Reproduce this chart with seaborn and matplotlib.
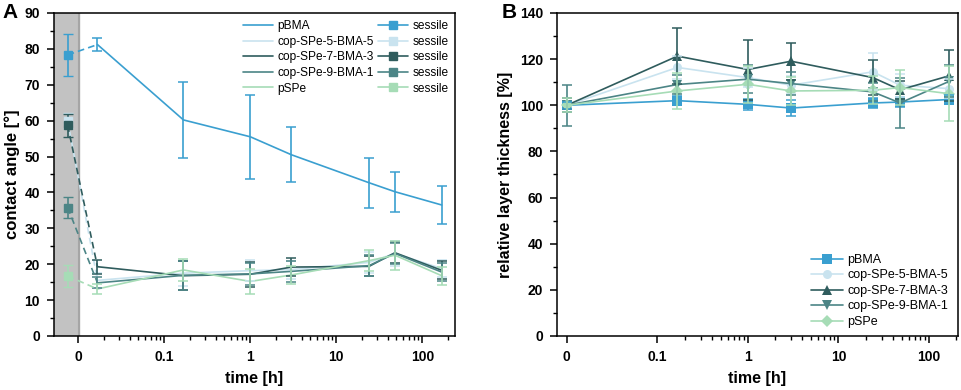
import numpy as np
import pandas as pd
import matplotlib
matplotlib.use('Agg')
import matplotlib.pyplot as plt
from matplotlib.lines import Line2D
from matplotlib.ticker import FixedLocator, NullFormatter, FixedFormatter
import seaborn as sns

# ---- data ----
samples = ['pBMA', 'cop-SPe-5-BMA-5', 'cop-SPe-7-BMA-3', 'cop-SPe-9-BMA-1', 'pSPe']
colors = ['#3a9fd0', '#c9e3ef', '#2f5c5d', '#4c8586', '#a6dcb6']

# panel A: contact angle
times_a = [1/60, 1/6, 1, 3, 24, 48, 168]
sessile_a = [78.3, 60.0, 58.7, 35.8, 16.7]
sessile_err_a = [5.8, 2.0, 3.2, 3.0, 3.0]
angle_pbma = [81.2, 60.2, 55.5, 50.5, 42.7, 40.2, 36.5]
angle_cop5 = [15.5, 17.5, 18.2, 18.5, 20.5, 23.0, 18.8]
angle_cop7 = [19.3, 16.8, 17.2, 19.2, 19.4, 23.2, 18.3]
angle_cop9 = [14.8, 16.9, 17.3, 18.0, 19.6, 23.0, 17.8]
angle_pspe = [13.1, 18.4, 15.2, 17.0, 21.0, 22.5, 16.8]
err_pbma = [1.8, 10.6, 11.7, 7.6, 7.0, 5.6, 5.3]
err_cop5 = [2.0, 3.5, 3.0, 2.5, 3.0, 3.5, 2.5]
err_cop7 = [2.0, 4.0, 3.5, 2.5, 2.8, 3.0, 2.5]
err_cop9 = [1.5, 4.0, 3.0, 3.0, 3.0, 3.0, 2.5]
err_pspe = [1.5, 3.0, 3.5, 2.5, 3.0, 4.0, 2.5]

# panel B: relative layer thickness
times_b = [0, 1/6, 1, 3, 24, 48, 168]
thick_pbma = [100, 102.0, 100.4, 98.8, 101.0, 101.4, 102.5]
thick_cop5 = [100, 116.4, 112.0, 108.7, 114.5, 108.7, 107.2]
thick_cop7 = [100, 121.3, 115.5, 119.1, 112.0, 106.7, 112.8]
thick_cop9 = [100, 109.0, 111.3, 109.4, 105.8, 101.0, 110.4]
thick_pspe = [100, 106.2, 109.1, 106.2, 106.5, 107.7, 105.0]
terr_pbma = [1.5, 2.0, 2.5, 3.5, 2.0, 2.0, 2.0]
terr_cop5 = [3.0, 5.0, 4.0, 4.0, 8.0, 5.0, 4.0]
terr_cop7 = [3.0, 12.0, 13.0, 8.0, 7.5, 4.0, 11.0]
terr_cop9 = [8.8, 4.0, 6.0, 5.0, 4.0, 11.0, 7.0]
terr_pspe = [3.0, 8.0, 8.0, 6.0, 6.0, 7.5, 12.0]

angles = [angle_pbma, angle_cop5, angle_cop7, angle_cop9, angle_pspe]
angle_errs = [err_pbma, err_cop5, err_cop7, err_cop9, err_pspe]
thicks = [thick_pbma, thick_cop5, thick_cop7, thick_cop9, thick_pspe]
thick_errs = [terr_pbma, terr_cop5, terr_cop7, terr_cop9, terr_pspe]
markers_b = ['s', 'o', '^', 'v', 'D']

ZERO_POS = 0.01      # where "0" sits on the log axis
SESSILE_POS = 0.0075  # sessile drop column inside the grey band

def xpos(t):
    return ZERO_POS if t == 0 else t

rows_a = []
rows_b = []
for s, va, vb in zip(samples, angles, thicks):
    for t, v in zip(times_a, va):
        rows_a.append({'sample': s, 'time': xpos(t), 'value': v})
    for t, v in zip(times_b, vb):
        rows_b.append({'sample': s, 'time': xpos(t), 'value': v})
df_a = pd.DataFrame(rows_a)
df_b = pd.DataFrame(rows_b)
palette = dict(zip(samples, colors))

sns.set_style('ticks')
plt.rcParams['font.family'] = ['Liberation Sans', 'DejaVu Sans']
plt.rcParams['axes.linewidth'] = 1.1
for k in ('text.color', 'axes.labelcolor', 'xtick.color', 'ytick.color', 'axes.edgecolor'):
    plt.rcParams[k] = 'black'

fig = plt.figure(figsize=(9.62, 3.9), dpi=100)
axA = fig.add_axes([0.0561, 0.1385, 0.4169, 0.8282])
axB = fig.add_axes([0.579, 0.1385, 0.4168, 0.8282])

# ---------------- panel A ----------------
axA.set_xscale('log')
axA.axvspan(0.004, 0.0103, color='#c2c2c2', zorder=0)
axA.axvline(0.0103, color='#a5a5a5', lw=1.5, zorder=0)
sns.lineplot(data=df_a, x='time', y='value', hue='sample', palette=palette,
             hue_order=samples, ax=axA, legend=False, linewidth=1.2, zorder=3)
for i, s in enumerate(samples):
    axA.errorbar([xpos(t) for t in times_a], angles[i], yerr=angle_errs[i], fmt='none',
                 ecolor=colors[i], elinewidth=1.2, capsize=3.5, capthick=1.1, zorder=3)
    axA.plot([SESSILE_POS, times_a[0]], [sessile_a[i], angles[i][0]], ls=(0, (4, 2.5)),
             color=colors[i], lw=1.2, zorder=3)
    axA.errorbar([SESSILE_POS], [sessile_a[i]], yerr=[sessile_err_a[i]], fmt='s', ms=5.5,
                 color=colors[i], ecolor=colors[i], elinewidth=1.2, capsize=3.5, zorder=4)

axA.set_xlim(0.0052, 240)
axA.set_ylim(0, 90)
axA.set_yticks(np.arange(0, 91, 10))
axA.set_yticks(np.arange(0, 91, 5), minor=True)
axA.xaxis.set_major_locator(FixedLocator([0.01, 0.1, 1, 10, 100]))
axA.xaxis.set_major_formatter(FixedFormatter(['0', '0.1', '1', '10', '100']))
minA = [m * 10.0 ** d for d in range(-2, 3) for m in range(2, 10)]
axA.xaxis.set_minor_locator(FixedLocator(minA))
axA.xaxis.set_minor_formatter(NullFormatter())
axA.set_xlabel('time [h]', fontsize=11.5, fontweight='bold', labelpad=5)
axA.set_ylabel('contact angle [°]', fontsize=12, fontweight='bold', labelpad=3)

h_lines = [Line2D([], [], color=c, lw=1.2) for c in colors]
h_sess = [Line2D([], [], color=c, lw=1.2, marker='s', ms=5.5) for c in colors]
axA.legend(h_lines + h_sess, samples + ['sessile'] * 5, ncol=2, loc='upper right',
           bbox_to_anchor=(0.99, 0.985), fontsize=8.6, frameon=False,
           handlelength=2.5, handletextpad=0.35, columnspacing=0.4,
           labelspacing=0.3, borderpad=0.2, borderaxespad=0.0)

# ---------------- panel B ----------------
axB.set_xscale('log')
sns.lineplot(data=df_b, x='time', y='value', hue='sample', style='sample', palette=palette,
             hue_order=samples, style_order=samples, markers=dict(zip(samples, markers_b)),
             dashes=False, markersize=6.5, markeredgewidth=0, ax=axB, legend=False,
             linewidth=1.2, zorder=3)
for i, s in enumerate(samples):
    axB.errorbar([xpos(t) for t in times_b], thicks[i], yerr=thick_errs[i], fmt='none',
                 ecolor=colors[i], elinewidth=1.2, capsize=3.5, capthick=1.1, zorder=3)

axB.set_xlim(0.0078, 209)
axB.set_ylim(0, 140)
axB.set_yticks(np.arange(0, 141, 20))
axB.set_yticks(np.arange(0, 141, 10), minor=True)
axB.xaxis.set_major_locator(FixedLocator([0.01, 0.1, 1, 10, 100]))
axB.xaxis.set_major_formatter(FixedFormatter(['0', '0.1', '1', '10', '100']))
minB = [m * 10.0 ** d for d in range(-1, 3) for m in range(2, 10)]
axB.xaxis.set_minor_locator(FixedLocator(minB))
axB.xaxis.set_minor_formatter(NullFormatter())
axB.set_xlabel('time [h]', fontsize=11.5, fontweight='bold', labelpad=5)
axB.set_ylabel('relative layer thickness [%]', fontsize=11.5, fontweight='bold', labelpad=5)

h_b = [Line2D([], [], color=c, lw=1.2, marker=m, ms=6.5, mew=0) for c, m in zip(colors, markers_b)]
axB.legend(h_b, samples, loc='lower right', bbox_to_anchor=(0.975, 0.025), fontsize=9,
           frameon=False, handlelength=2.6, handletextpad=0.3, labelspacing=0.28,
           borderpad=0.0, borderaxespad=0.0)

for ax in (axA, axB):
    for sp in ax.spines.values():
        sp.set_visible(True)
        sp.set_linewidth(1.1)
    ax.tick_params(which='major', direction='out', length=5, width=1.1, labelsize=10, pad=5)
    ax.tick_params(which='minor', direction='out', length=3, width=1.0)
    for lab in ax.get_xticklabels() + ax.get_yticklabels():
        lab.set_fontweight('bold')

fig.text(0.003, 0.993, 'A', fontsize=15, fontweight='bold', va='top')
fig.text(0.521, 0.993, 'B', fontsize=15, fontweight='bold', va='top')

fig.savefig('out.png', dpi=100)
